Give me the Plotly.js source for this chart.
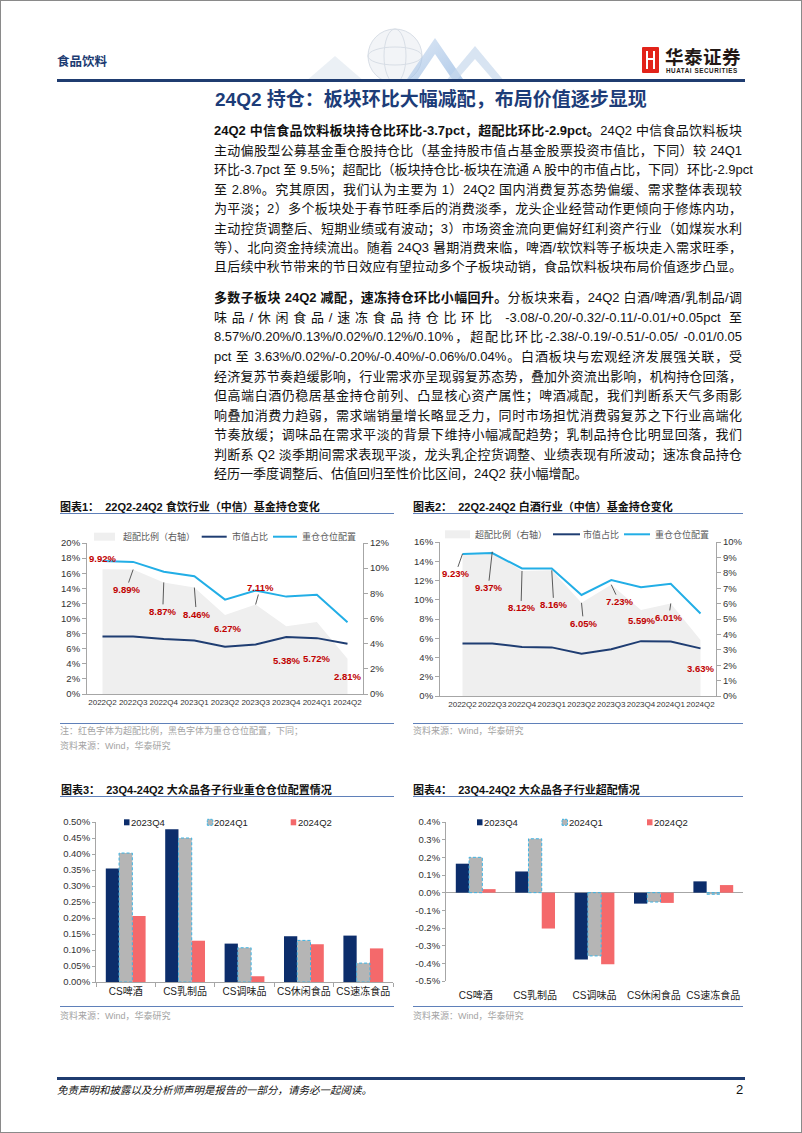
<!DOCTYPE html>
<html lang="zh-CN">
<head>
<meta charset="utf-8">
<script src="https://cdn.plot.ly/plotly-3.0.1.min.js"></script>
<style>
html,body{margin:0;padding:0;background:#fff;}
#page{position:relative;width:802px;height:1133px;overflow:hidden;background:#fff;font-family:'Liberation Sans','Noto Sans CJK SC',sans-serif;color:#111;}
.a{position:absolute;white-space:nowrap;}
.frame{position:absolute;left:0;top:0;width:802px;height:1133px;box-sizing:border-box;border:1px solid #8a8a8a;pointer-events:none;}
.ln{position:absolute;left:214px;width:528px;height:19.5px;line-height:19.5px;font-size:13px;text-align:justify;text-align-last:justify;white-space:nowrap;color:#111;}
.ln.last{text-align:left;text-align-last:left;}
.ct{position:absolute;font-size:11px;font-weight:bold;line-height:14px;color:#111;white-space:nowrap;}
.rule{position:absolute;height:1px;background:#5f80b9;}
.src{position:absolute;font-size:9px;line-height:12px;color:#a3a3a3;white-space:nowrap;}
.chart{position:absolute;}
</style>
</head>
<body>
<div id="page">
  <!-- header -->
  <div class="a" style="left:57px;top:55px;font-size:12.5px;line-height:14px;font-weight:bold;color:#1c3b72;">食品饮料</div>
  <svg class="a" style="left:300px;top:26px" width="215" height="56" viewBox="0 0 215 56">
    <defs><linearGradient id="g1" x1="0" y1="0" x2="1" y2="1"><stop offset="0" stop-color="#c9daef"/><stop offset="1" stop-color="#7aa6da"/></linearGradient></defs>
    <polygon points="5,56 35,30 65,56" fill="#e3e9f1" opacity="0.7"/>
    <circle cx="95" cy="30" r="27" fill="#f2f4f7" stroke="#d8dee6" stroke-width="1"/>
    <ellipse cx="95" cy="30" rx="11" ry="27" fill="none" stroke="#d8dee6"/>
    <ellipse cx="95" cy="30" rx="27" ry="9" fill="none" stroke="#d8dee6"/>
    <polygon points="105,56 135,12 165,56 154,56 135,28 116,56" fill="url(#g1)" opacity="0.6"/>
    <polygon points="145,56 175,20 205,56 195,56 175,33 155,56" fill="#c8d8ec" opacity="0.7"/>
  </svg>
  <div class="a" style="left:642px;top:47px;width:17px;height:26px;background:#e2231a;border-radius:1px;"></div>
  <div class="a" style="left:646px;top:51px;width:2px;height:18px;background:#fff;"></div>
  <div class="a" style="left:653px;top:51px;width:2px;height:18px;background:#fff;"></div>
  <div class="a" style="left:646px;top:58px;width:9px;height:2px;background:#fff;"></div>
  <div class="a" style="left:665px;top:47px;font-size:18.5px;line-height:22px;font-weight:bold;color:#231815;letter-spacing:0.5px;">华泰证券</div>
  <div class="a" style="left:666px;top:67px;font-size:6.3px;line-height:8px;font-weight:bold;color:#231815;letter-spacing:0.55px;">HUATAI SECURITIES</div>
  <div class="a" style="left:57px;top:79px;width:688px;height:3px;background:#1f3c70;"></div>

  <div class="a" style="left:215px;top:87px;font-size:19px;line-height:26px;font-weight:bold;color:#1c3c78;">24Q2 持仓：板块环比大幅减配，布局价值逐步显现</div>

  <div id="text"></div>

  <!-- chart frames -->
  <div class="ct" style="left:60px;top:500px;">图表1：&nbsp;&nbsp;22Q2-24Q2 食饮行业（中信）基金持仓变化</div>
  <div class="rule" style="left:60px;top:513px;width:334px;"></div>
  <div class="ct" style="left:413px;top:500px;">图表2：&nbsp;&nbsp;22Q2-24Q2 白酒行业（中信）基金持仓变化</div>
  <div class="rule" style="left:413px;top:513px;width:330px;"></div>

  <div id="c1" class="chart" style="left:40px;top:520px;width:360px;height:205px;"></div>
  <div id="c2" class="chart" style="left:400px;top:520px;width:360px;height:205px;"></div>

  <div class="rule" style="left:60px;top:723px;width:334px;"></div>
  <div class="src" style="left:60px;top:725px;">注：红色字体为超配比例，黑色字体为重仓仓位配置，下同；</div>
  <div class="src" style="left:60px;top:740px;">资料来源：Wind，华泰研究</div>
  <div class="rule" style="left:413px;top:723px;width:330px;"></div>
  <div class="src" style="left:413px;top:725px;">资料来源：Wind，华泰研究</div>

  <div class="ct" style="left:61px;top:783px;">图表3：&nbsp;&nbsp;23Q4-24Q2 大众品各子行业重仓仓位配置情况</div>
  <div class="rule" style="left:60px;top:796px;width:334px;"></div>
  <div class="ct" style="left:413px;top:783px;">图表4：&nbsp;&nbsp;23Q4-24Q2 大众品各子行业超配情况</div>
  <div class="rule" style="left:413px;top:796px;width:330px;"></div>

  <div id="c3" class="chart" style="left:40px;top:800px;width:360px;height:210px;"></div>
  <div id="c4" class="chart" style="left:400px;top:800px;width:360px;height:210px;"></div>

  <div class="rule" style="left:60px;top:1006px;width:334px;"></div>
  <div class="src" style="left:60px;top:1010px;">资料来源：Wind，华泰研究</div>
  <div class="rule" style="left:413px;top:1006px;width:330px;"></div>
  <div class="src" style="left:413px;top:1010px;">资料来源：Wind，华泰研究</div>

  <!-- footer -->
  <div class="a" style="left:57px;top:1077px;width:688px;height:3px;background:#1f3c70;"></div>
  <div class="a" style="left:57px;top:1083px;font-size:10.5px;line-height:14px;font-style:italic;color:#111;">免责声明和披露以及分析师声明是报告的一部分，请务必一起阅读。</div>
  <div class="a" style="left:736px;top:1082px;font-size:13px;line-height:16px;color:#111;">2</div>

  <div class="frame"></div>
</div>

<script>
// ---------------- text ----------------
const para1 = [
  '<b>24Q2 中信食品饮料板块持仓比环比-3.7pct，超配比环比-2.9pct。</b>24Q2 中信食品饮料板块',
  '主动偏股型公募基金重仓股持仓比（基金持股市值占基金股票投资市值比，下同）较 24Q1',
  '环比-3.7pct 至 9.5%；超配比（板块持仓比-板块在流通 A 股中的市值占比，下同）环比-2.9pct',
  '至 2.8%。究其原因，我们认为主要为 1）24Q2 国内消费复苏态势偏缓、需求整体表现较',
  '为平淡；2）多个板块处于春节旺季后的消费淡季，龙头企业经营动作更倾向于修炼内功，',
  '主动控货调整后、短期业绩或有波动；3）市场资金流向更偏好红利资产行业（如煤炭水利',
  '等）、北向资金持续流出。随着 24Q3 暑期消费来临，啤酒/软饮料等子板块走入需求旺季，',
  '且后续中秋节带来的节日效应有望拉动多个子板块动销，食品饮料板块布局价值逐步凸显。'
];
const para2 = [
  '<b>多数子板块 24Q2 减配，速冻持仓环比小幅回升。</b>分板块来看，24Q2 白酒/啤酒/乳制品/调',
  '味品/休闲食品/速冻食品持仓比环比 -3.08/-0.20/-0.32/-0.11/-0.01/+0.05pct 至',
  '8.57%/0.20%/0.13%/0.02%/0.12%/0.10%，超配比环比-2.38/-0.19/-0.51/-0.05/ -0.01/0.05',
  'pct 至 3.63%/0.02%/-0.20%/-0.40%/-0.06%/0.04%。白酒板块与宏观经济发展强关联，受',
  '经济复苏节奏趋缓影响，行业需求亦呈现弱复苏态势，叠加外资流出影响，机构持仓回落，',
  '但高端白酒仍稳居基金持仓前列、凸显核心资产属性；啤酒减配，我们判断系天气多雨影',
  '响叠加消费力趋弱，需求端销量增长略显乏力，同时市场担忧消费弱复苏之下行业高端化',
  '节奏放缓；调味品在需求平淡的背景下维持小幅减配趋势；乳制品持仓比明显回落，我们',
  '判断系 Q2 淡季期间需求表现平淡，龙头乳企控货调整、业绩表现有所波动；速冻食品持仓',
  '经历一季度调整后、估值回归至性价比区间，24Q2 获小幅增配。'
];
(function(){
  const host = document.getElementById('text');
  function put(lines, top0, step, lastLeft){
    lines.forEach((h,i)=>{
      const d = document.createElement('div');
      d.className = 'ln' + (lastLeft && i===lines.length-1 ? ' last' : '');
      d.style.top = (top0 + i*step) + 'px';
      d.innerHTML = h;
      host.appendChild(d);
    });
  }
  put(para1, 121.3, 19.45, false);
  put(para2, 288.3, 19.55, true);
})();

// ---------------- data ----------------
const quarters = ['2022Q2','2022Q3','2022Q4','2023Q1','2023Q2','2023Q3','2023Q4','2024Q1','2024Q2'];
// 图表1 食饮
const fbOverweight = [9.92, 9.89, 8.87, 8.46, 6.27, 7.11, 5.38, 5.72, 2.81];
const fbMarketShare = [7.6, 7.6, 7.3, 7.1, 6.25, 6.55, 7.55, 7.4, 6.65];
const fbHolding = [17.6, 17.5, 16.2, 15.6, 12.5, 13.7, 12.9, 13.15, 9.5];
// 图表2 白酒
const bjOverweight = [9.23, 9.37, 8.12, 8.16, 6.05, 7.23, 5.59, 6.01, 3.63];
const bjMarketShare = [5.45, 5.45, 5.1, 5.05, 4.4, 4.85, 5.7, 5.65, 4.95];
const bjHolding = [14.75, 14.85, 13.25, 13.25, 10.5, 12.05, 11.3, 11.65, 8.57];

const seriesNames = ['超配比例（右轴）', '市值占比', '重仓仓位配置'];

const subCats = ['CS啤酒', 'CS乳制品', 'CS调味品', 'CS休闲食品', 'CS速冻食品'];
const periods = ['2023Q4', '2024Q1', '2024Q2'];
// 图表3 重仓仓位配置 (%)
const hold23Q4 = [0.355, 0.477, 0.12, 0.143, 0.145];
const hold24Q1 = [0.403, 0.45, 0.107, 0.13, 0.059];
const hold24Q2 = [0.206, 0.129, 0.018, 0.118, 0.105];
// 图表4 超配 (%)
const over23Q4 = [0.164, 0.12, -0.378, -0.062, 0.064];
const over24Q1 = [0.20, 0.305, -0.358, -0.053, -0.009];
const over24Q2 = [0.02, -0.203, -0.405, -0.058, 0.043];

const holdTickVals = [0, 0.05, 0.10, 0.15, 0.20, 0.25, 0.30, 0.35, 0.40, 0.45, 0.50];
const holdTickText = ['0.00%','0.05%','0.10%','0.15%','0.20%','0.25%','0.30%','0.35%','0.40%','0.45%','0.50%'];
const overTickVals = [-0.5, -0.4, -0.3, -0.2, -0.1, 0, 0.1, 0.2, 0.3, 0.4];
const overTickText = ['-0.5%','-0.4%','-0.3%','-0.2%','-0.1%','0.0%','0.1%','0.2%','0.3%','0.4%'];

// ---------------- styles / layout ----------------
const FONT = 'Liberation Sans, Noto Sans CJK SC, sans-serif';
const AX = '#a6a6a6';
const NAVY_LINE = '#1f3d72', SKY = '#22aee6', AREA = '#efefef', RED_TXT = '#c00000';
const NAVY_BAR = '#0c2d6b', GRAY_BAR = '#b5b5b5', SALMON = '#f4696b', DASH_BLUE = '#3db3e3';
const cfg = {staticPlot: true, displayModeBar: false};

// label offsets in px: [dx, dy(down +), leader line?]
const fbLabelPos = [[0,-11,false],[-7,20,true],[-1,29,true],[2,26.5,true],[2,13,false],[4.7,-17,true],[0,34,false],[0,36,false],[0,18,false]];
const bjLabelPos = [[-7,20,true],[-4,36,true],[-1,37,true],[2,34.5,true],[2,20.5,true],[8,17,true],[0,11,false],[-2,14,true],[0,28,false]];

// legend geometry, page px: [symbolLeft, symbolRight, textLeft]
const legend1 = {y:536.7, items:[[94,115,123],[201.7,226.7,231.7],[273,297,301.7]]};
const legend2 = {y:534.3, items:[[445,470,475],[553,580,583],[624,650,655]]};
const legend3 = {y:822.3, items:[[124,129.5,131],[207.3,212.8,214.3],[290.7,296.2,297.7]]};
const legend4 = {y:822.3, items:[[477,482.5,484],[562,567.5,569],[647,652.5,654]]};

function toPaper(g){
  const pw = g.w - g.m.l - g.m.r, ph = g.h - g.m.t - g.m.b;
  return {
    x: px => (px - g.left - g.m.l) / pw,
    y: py => 1 - (py - g.top - g.m.t) / ph
  };
}

function manualLegend(g, leg, names, symbols, fontSpec){
  const P = toPaper(g);
  const shapes = [], ann = [];
  leg.items.forEach((it, i)=>{
    const s = symbols[i];
    if (s.kind === 'line') {
      shapes.push({type:'line', xref:'paper', yref:'paper', x0:P.x(it[0]), x1:P.x(it[1]), y0:P.y(leg.y), y1:P.y(leg.y),
        line:{color:s.color, width:2}});
    } else {
      shapes.push({type:'rect', xref:'paper', yref:'paper', x0:P.x(it[0]), x1:P.x(it[1]),
        y0:P.y(leg.y + s.h/2), y1:P.y(leg.y - s.h/2), fillcolor:s.color,
        line:s.border ? {color:s.border, width:1, dash:'2px,1px'} : {width:0}});
    }
    ann.push({xref:'paper', yref:'paper', x:P.x(it[2] - 2), y:P.y(leg.y), xanchor:'left', yanchor:'middle',
      showarrow:false, text:names[i], font:fontSpec});
  });
  return {shapes, ann};
}

function lineChart(id, g, over, mkt, hold, leftMax, rightMax, rightStep, labelPos, leg){
  const traces = [
    {type:'scatter', x:quarters, y:over, yaxis:'y', mode:'none', fill:'tozeroy', fillcolor:AREA, name:seriesNames[0]},
    {type:'scatter', x:quarters, y:mkt, yaxis:'y2', mode:'lines', line:{color:NAVY_LINE, width:2}, name:seriesNames[1]},
    {type:'scatter', x:quarters, y:hold, yaxis:'y2', mode:'lines', line:{color:SKY, width:2}, name:seriesNames[2]}
  ];
  const ann = over.map((v,i)=>{
    const p = labelPos[i];
    const a = {x:quarters[i], y:v, xref:'x', yref:'y', text:'<b>'+v.toFixed(2)+'%</b>',
      font:{family:FONT, size:9.5, color:RED_TXT}};
    if (p[2]) Object.assign(a, {showarrow:true, arrowhead:0, arrowwidth:0.8, arrowcolor:'#333', ax:p[0], ay:p[1], standoff:0});
    else Object.assign(a, {showarrow:false, xshift:p[0], yshift:-p[1]});
    return a;
  });
  const L = manualLegend(g, leg, seriesNames,
    [{kind:'rect', color:AREA, h:8}, {kind:'line', color:NAVY_LINE}, {kind:'line', color:SKY}],
    {family:FONT, size:9, color:'#595959'});
  const tickfont = {family:FONT, size:9.5, color:'#333'};
  const layout = {
    width:g.w, height:g.h, margin:Object.assign({pad:0}, g.m),
    paper_bgcolor:'rgba(0,0,0,0)', plot_bgcolor:'rgba(0,0,0,0)',
    font:{family:FONT}, showlegend:false,
    xaxis:{type:'category', showline:true, linecolor:AX, ticks:'', tickangle:0,
      tickfont:{family:FONT, size:8, color:'#333'}, showgrid:false, zeroline:false},
    yaxis:{side:'right', range:[0,rightMax], dtick:rightStep, tick0:0, ticksuffix:'%', showline:true, linecolor:AX,
      ticks:'outside', ticklen:4, tickcolor:AX, tickfont:tickfont, showgrid:false, zeroline:false},
    yaxis2:{overlaying:'y', side:'left', range:[0,leftMax], dtick:2, tick0:0, ticksuffix:'%', showline:true, linecolor:AX,
      ticks:'outside', ticklen:4, tickcolor:AX, tickfont:tickfont, showgrid:false, zeroline:false},
    annotations:ann.concat(L.ann),
    shapes:L.shapes
  };
  Plotly.newPlot(id, traces, layout, cfg);
}

function barChart(id, g, s1, s2, s3, tickVals, tickText, range, leg, bottomLabels){
  const bargap = 0.33;
  const w = (1 - bargap) / 3;
  const traces = [
    {type:'bar', x:subCats, y:s1, name:periods[0], marker:{color:NAVY_BAR}},
    {type:'bar', x:subCats, y:s2, name:periods[1], marker:{color:GRAY_BAR}},
    {type:'bar', x:subCats, y:s3, name:periods[2], marker:{color:SALMON}}
  ];
  const outlines = s2.map((v,i)=>({type:'rect', xref:'x', yref:'y', x0:i - w/2, x1:i + w/2, y0:0, y1:v,
    line:{color:DASH_BLUE, width:1, dash:'3px,2px'}, fillcolor:'rgba(0,0,0,0)', layer:'above'}));
  const L = manualLegend(g, leg, periods,
    [{kind:'rect', color:NAVY_BAR, h:6}, {kind:'rect', color:GRAY_BAR, h:6, border:DASH_BLUE}, {kind:'rect', color:SALMON, h:6}],
    {family:FONT, size:9.5, color:'#222'});
  const tickfont = {family:FONT, size:9.5, color:'#333'};
  const layout = {
    width:g.w, height:g.h, margin:Object.assign({pad:0}, g.m),
    paper_bgcolor:'rgba(0,0,0,0)', plot_bgcolor:'rgba(0,0,0,0)',
    font:{family:FONT}, showlegend:false,
    barmode:'group', bargap:bargap, bargroupgap:0,
    xaxis:{type:'category', tickfont:{family:FONT, size:10, color:'#222'}, tickangle:0, showgrid:false, zeroline:false},
    yaxis:{range:range, tickmode:'array', tickvals:tickVals, ticktext:tickText, showline:true, linecolor:AX,
      ticks:'outside', ticklen:3, tickcolor:AX, tickfont:tickfont, showgrid:false},
    shapes:outlines.concat(L.shapes),
    annotations:L.ann
  };
  if (bottomLabels) {
    Object.assign(layout.xaxis, {showline:false, ticks:'outside', ticklen:5, tickcolor:'rgba(0,0,0,0)'});
    Object.assign(layout.yaxis, {zeroline:true, zerolinecolor:AX, zerolinewidth:1});
  } else {
    Object.assign(layout.xaxis, {showline:true, linecolor:AX, ticks:'outside', tickson:'boundaries', ticklen:4, tickcolor:AX});
    layout.yaxis.zeroline = false;
  }
  Plotly.newPlot(id, traces, layout, cfg);
}

const g1 = {left:40, top:520, w:360, h:205, m:{l:47, r:37, t:23, b:31}};
const g2 = {left:400, top:520, w:360, h:205, m:{l:40, r:44, t:22, b:29}};
const g3 = {left:40, top:800, w:360, h:210, m:{l:56, r:7, t:22, b:28}};
const g4 = {left:400, top:800, w:360, h:210, m:{l:46, r:17, t:22, b:29}};

lineChart('c1', g1, fbOverweight, fbMarketShare, fbHolding, 20, 12, 2, fbLabelPos, legend1);
lineChart('c2', g2, bjOverweight, bjMarketShare, bjHolding, 16, 10, 1, bjLabelPos, legend2);
barChart('c3', g3, hold23Q4, hold24Q1, hold24Q2, holdTickVals, holdTickText, [0, 0.5], legend3, false);
barChart('c4', g4, over23Q4, over24Q1, over24Q2, overTickVals, overTickText, [-0.5, 0.4], legend4, true);
</script>
</body>
</html>
